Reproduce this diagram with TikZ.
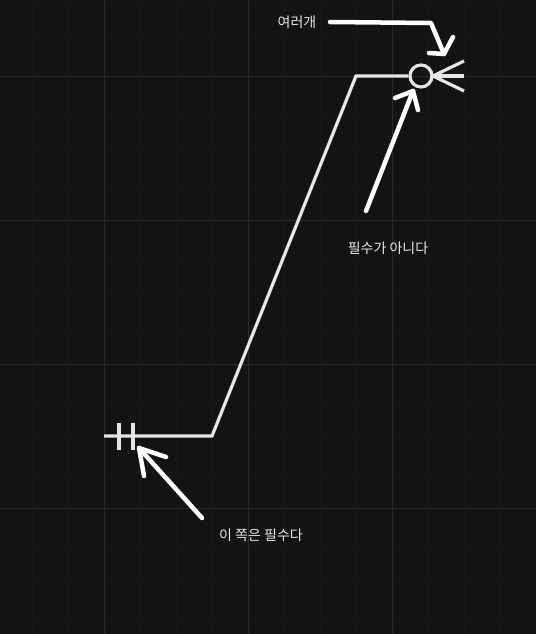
\documentclass[tikz,border=0pt]{standalone}
\usepackage{fontspec}
\newfontfamily\kr{Noto Sans CJK KR}
\definecolor{bgc}{HTML}{131313}
\definecolor{minorc}{HTML}{181818}
\definecolor{majorc}{HTML}{2B2B2B}
\definecolor{linec}{HTML}{E6E6E6}
\definecolor{textc}{HTML}{E8E8E8}
\tikzset{
  relline/.style={draw=linec, line width=3.2pt},
  notearrow/.style={draw=white, line width=4.5pt, line cap=round, line join=round},
  label/.style={text=textc, font=\kr\fontsize{14}{16}\selectfont, inner sep=0pt, anchor=center}
}
\begin{document}
\begin{tikzpicture}[x=1pt,y=-1pt]
\fill[bgc] (0,0) rectangle (536,634);
\useasboundingbox (0,0) rectangle (536,634);
% minor grid
\foreach \x in {32,68,140,176,212,284,320,356,428,464,500} \draw[minorc, line width=1pt] (\x,0) -- (\x,634);
\foreach \y in {4,40,112,148,184,256,292,328,400,436,472,544,580,616} \draw[minorc, line width=1pt] (0,\y) -- (536,\y);
% major grid
\foreach \x in {104,248,392} \draw[majorc, line width=1pt] (\x,0) -- (\x,634);
\foreach \y in {76,220,364,508} \draw[majorc, line width=1pt] (0,\y) -- (536,\y);

% relationship line
\coordinate (start) at (104,436);
\coordinate (b1) at (212,436);
\coordinate (b2) at (356,76);
\node[circle, draw=linec, line width=3.2pt, minimum size=22pt, inner sep=0pt] (circ) at (421,76) {};
\draw[relline, line join=miter] (start) -- (b1) -- (b2) -- (circ.west);
% double bar (mandatory one)
\coordinate (bar1t) at (119,423); \coordinate (bar1b) at (119,450);
\coordinate (bar2t) at (133,423); \coordinate (bar2b) at (133,450);
\draw[relline] (bar1t) -- (bar1b);
\draw[relline] (bar2t) -- (bar2b);
% crow's foot
\coordinate (cf) at (433,76);
\coordinate (cf1) at (464,61);
\coordinate (cf2) at (464,76);
\coordinate (cf3) at (464,91);
\draw[relline] (cf) -- (cf1);
\draw[relline] (cf) -- (cf2);
\draw[relline] (cf) -- (cf3);

% labels
\node[label] (many) at (297,22) {여러개};
\node[label] (opt) at (388,248) {필수가 아니다};
\node[label] (mand) at (261,535) {이 쪽은 필수다};

% hand-drawn arrows
\coordinate (a1s) at (330,22);
\coordinate (a1m) at (431,23);
\coordinate (a1t) at (444,54);
\coordinate (a1h1) at (429,53);
\coordinate (a1h2) at (453,37);
\draw[notearrow] (a1s) -- (a1m) -- (a1t);
\draw[notearrow] (a1h1) -- (a1t) -- (a1h2);

\coordinate (a2s) at (366,211);
\coordinate (a2t) at (413,91);
\coordinate (a2h1) at (395,98);
\coordinate (a2h2) at (418,110);
\draw[notearrow] (a2s) -- (a2t);
\draw[notearrow] (a2h1) -- (a2t) -- (a2h2);

\coordinate (a3s) at (202,518);
\coordinate (a3t) at (139,448);
\coordinate (a3h1) at (166,457);
\coordinate (a3h2) at (144,476);
\draw[notearrow] (a3s) -- (a3t);
\draw[notearrow] (a3h1) -- (a3t) -- (a3h2);
\end{tikzpicture}
\end{document}
